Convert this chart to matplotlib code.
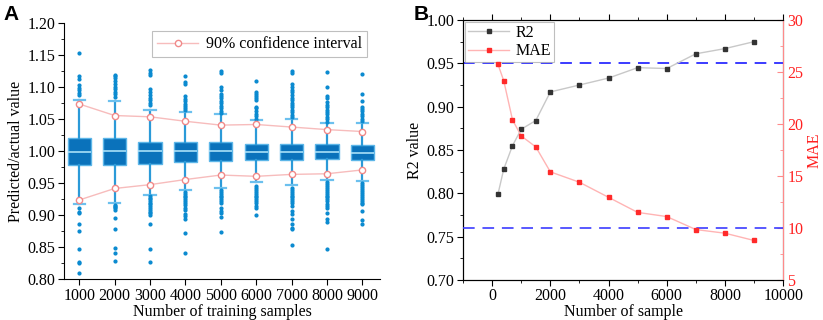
import matplotlib
matplotlib.use("Agg")
import matplotlib.pyplot as plt
import numpy as np
from matplotlib.ticker import MultipleLocator, FormatStrFormatter

plt.rcParams['font.family'] = ['Liberation Serif', 'DejaVu Serif']
plt.rcParams['font.size'] = 11.5
FS = 11.5

# ---------------- panel A data ----------------
train_sizes = ['1000', '2000', '3000', '4000', '5000', '6000', '7000', '8000', '9000']
med = [0.9985, 1.000, 1.000, 1.000, 1.000, 0.999, 0.999, 0.999, 0.998]
q1 = [0.978, 0.979, 0.981, 0.984, 0.985, 0.987, 0.986, 0.988, 0.986]
q3 = [1.021, 1.021, 1.015, 1.015, 1.014, 1.012, 1.012, 1.011, 1.010]
whis_hi = [1.081, 1.079, 1.065, 1.061, 1.059, 1.049, 1.051, 1.044, 1.044]
whis_lo = [0.918, 0.919, 0.932, 0.940, 0.942, 0.952, 0.948, 0.955, 0.953]
ci_hi = [1.074, 1.056, 1.054, 1.047, 1.041, 1.042, 1.038, 1.034, 1.031]
ci_lo = [0.924, 0.942, 0.948, 0.956, 0.963, 0.961, 0.964, 0.965, 0.971]

fliers = [
    [1.153, 1.117, 1.113, 1.103, 1.099, 1.096, 1.091, 1.088,
     0.911, 0.905, 0.904, 0.887, 0.876, 0.847, 0.827, 0.826, 0.810],
    [1.120, 1.117, 1.114, 1.110, 1.105, 1.101, 1.097, 1.093, 1.089, 1.085,
     0.916, 0.914, 0.913, 0.911, 0.909, 0.896, 0.878, 0.849, 0.841, 0.829],
    [1.127, 1.123, 1.119, 1.098, 1.093, 1.088, 1.084, 1.080, 1.076, 1.072,
     0.930, 0.927, 0.925, 0.922, 0.919, 0.917, 0.914, 0.912, 0.909, 0.906, 0.904, 0.901,
     0.887, 0.847, 0.827],
    [1.117, 1.109, 1.105, 1.086, 1.082, 1.078, 1.074, 1.071, 1.067, 1.064,
     0.937, 0.934, 0.931, 0.928, 0.925, 0.922, 0.919, 0.916, 0.912, 0.909, 0.902, 0.899,
     0.895, 0.873, 0.841],
    [1.126, 1.123, 1.100, 1.096, 1.089, 1.086, 1.083, 1.079, 1.075, 1.071, 1.067, 1.063, 1.060,
     0.940, 0.937, 0.934, 0.931, 0.928, 0.925, 0.922, 0.919, 0.911, 0.907, 0.904, 0.897, 0.874],
    [1.110, 1.093, 1.090, 1.087, 1.083, 1.080, 1.070, 1.067, 1.063, 1.059, 1.055, 1.051,
     0.946, 0.943, 0.940, 0.937, 0.934, 0.931, 0.928, 0.925, 0.922, 0.919, 0.915, 0.911, 0.900],
    [1.126, 1.122, 1.105, 1.100, 1.096, 1.092, 1.088, 1.084, 1.080, 1.076, 1.073, 1.069, 1.065,
     1.061, 1.057, 1.054,
     0.943, 0.940, 0.937, 0.934, 0.931, 0.928, 0.925, 0.922, 0.919, 0.915, 0.907, 0.902,
     0.894, 0.886, 0.881, 0.878, 0.853],
    [1.124, 1.101, 1.087, 1.084, 1.077, 1.073, 1.069, 1.065, 1.062, 1.058, 1.054, 1.050, 1.046,
     0.952, 0.949, 0.946, 0.943, 0.940, 0.937, 0.934, 0.931, 0.928, 0.925, 0.922, 0.918,
     0.915, 0.912, 0.904, 0.894, 0.890, 0.848],
    [1.121, 1.089, 1.079, 1.070, 1.066, 1.063, 1.059, 1.055, 1.051, 1.048,
     0.950, 0.947, 0.944, 0.941, 0.938, 0.935, 0.932, 0.929, 0.926, 0.923, 0.920, 0.917,
     0.907, 0.892, 0.887],
]

# ---------------- panel B data ----------------
n_sample = [200, 400, 700, 1000, 1500, 2000, 3000, 4000, 5000, 6000, 7000, 8000, 9000]
r2 = [0.799, 0.828, 0.855, 0.874, 0.884, 0.917, 0.925, 0.933, 0.945, 0.944, 0.961, 0.967, 0.975]
mae = [25.75, 24.15, 20.4, 18.85, 17.8, 15.4, 14.4, 12.95, 11.5, 11.1, 9.85, 9.5, 8.8]
r2_ref = 0.95
mae_ref = 10

fig = plt.figure(figsize=(8.23, 3.2), dpi=100)

# ========== A: box plots ==========
axA = fig.add_axes([0.0778, 0.127, 0.384, 0.80])
pos = np.arange(1, len(train_sizes) + 1)
stats = []
for i in range(len(train_sizes)):
    stats.append(dict(med=med[i], q1=q1[i], q3=q3[i], whislo=whis_lo[i],
                      whishi=whis_hi[i], fliers=fliers[i]))
axA.bxp(stats, positions=pos, widths=0.66, patch_artist=True, showfliers=True,
        boxprops=dict(facecolor='#0a72bb', edgecolor='#5cb6e8', linewidth=1.0),
        medianprops=dict(color='#a8e0f8', linewidth=1.2),
        whiskerprops=dict(color='#2b9ad8', linewidth=1.6),
        capprops=dict(color='#6cc0ee', linewidth=1.6),
        capwidths=0.32,
        flierprops=dict(marker='o', markersize=2.0, markerfacecolor='#0a8ad0',
                        markeredgecolor='#0a8ad0', linestyle='none'))

axA.plot(pos, ci_hi, color='#f7bcbc', lw=1.0, marker='o', ms=4.5,
         mfc='white', mec='#f08a8a', mew=1.0, label='90% confidence interval', zorder=5)
axA.plot(pos, ci_lo, color='#f7bcbc', lw=1.0, marker='o', ms=4.5,
         mfc='white', mec='#f08a8a', mew=1.0, zorder=5)

axA.set_xlim(0.57, 9.5)
axA.set_ylim(0.80, 1.20)
axA.set_xticks(pos)
axA.set_xticklabels(train_sizes)
axA.yaxis.set_major_locator(MultipleLocator(0.05))
axA.yaxis.set_minor_locator(MultipleLocator(0.025))
axA.yaxis.set_major_formatter(FormatStrFormatter('%.2f'))
axA.spines['top'].set_visible(False)
axA.spines['right'].set_visible(False)
axA.tick_params(axis='both', direction='out', length=4, labelsize=FS, pad=2)
axA.tick_params(axis='y', which='minor', direction='out', length=2.5)
axA.set_xlabel('Number of training samples', fontsize=FS, labelpad=0)
axA.set_ylabel('Predicted/actual value', fontsize=FS, labelpad=3)
legA = axA.legend(loc='upper right', bbox_to_anchor=(0.985, 1.0), frameon=True,
                  fancybox=False, fontsize=FS, handlelength=2.6,
                  borderpad=0.3, handletextpad=0.5)
legA.get_frame().set_edgecolor('#b0b0b0')
legA.get_frame().set_linewidth(0.8)

fig.text(0.004, 0.985, 'A', fontsize=15, fontweight='bold',
         family='Liberation Sans', va='top', ha='left')

# ========== B: R2 & MAE ==========
axB = fig.add_axes([0.5626, 0.125, 0.389, 0.8125])
l1, = axB.plot(n_sample, r2, color='#c8c8c8', lw=1.0, marker='s', ms=3.5,
               mfc='#333333', mec='#333333', label='R2', zorder=4)
axB.axhline(r2_ref, color='#3b3bff', lw=1.4, dashes=(6, 4), zorder=3)
axB.set_xlim(-1000, 10000)
axB.set_ylim(0.70, 1.00)
axB.xaxis.set_major_locator(MultipleLocator(2000))
axB.xaxis.set_minor_locator(MultipleLocator(1000))
axB.yaxis.set_major_locator(MultipleLocator(0.05))
axB.yaxis.set_minor_locator(MultipleLocator(0.025))
axB.yaxis.set_major_formatter(FormatStrFormatter('%.2f'))
axB.tick_params(axis='both', which='major', direction='out', length=4, labelsize=FS, pad=2)
axB.tick_params(axis='both', which='minor', direction='out', length=2.5)
axB.tick_params(axis='x', which='both', top=True)
axB.set_xlabel('Number of sample', fontsize=FS, labelpad=0)
axB.set_ylabel('R2 value', fontsize=FS, labelpad=3)

axB2 = axB.twinx()
l2, = axB2.plot(n_sample, mae, color='#ffb4b4', lw=1.0, marker='s', ms=3.5,
                mfc='#ff2a2a', mec='#ff2a2a', label='MAE', zorder=4)
axB2.axhline(mae_ref, color='#3b3bff', lw=1.4, dashes=(6, 4), alpha=0.85, zorder=3)
axB2.set_ylim(5, 30)
axB2.yaxis.set_major_locator(MultipleLocator(5))
axB2.yaxis.set_minor_locator(MultipleLocator(2.5))
axB2.spines['right'].set_color('#ff8a8a')
axB2.tick_params(axis='y', which='both', colors='#ff8a8a', direction='in',
                 labelcolor='#ff2020', labelsize=FS, pad=3)
axB2.tick_params(axis='y', which='major', length=4)
axB2.tick_params(axis='y', which='minor', length=2.5)
axB2.set_ylabel('MAE', fontsize=FS, color='#ff2020', labelpad=2)

legB = axB.legend(handles=[l1, l2], loc='upper left', bbox_to_anchor=(0.0, 1.0),
                  frameon=True, fancybox=False, fontsize=FS, handlelength=2.6,
                  borderpad=0.2, labelspacing=0.15, handletextpad=0.4,
                  borderaxespad=0.1)
legB.get_frame().set_edgecolor('#b0b0b0')
legB.get_frame().set_linewidth(0.8)

fig.text(0.502, 0.985, 'B', fontsize=15, fontweight='bold',
         family='Liberation Sans', va='top', ha='left')

fig.savefig('out.png', dpi=100)
